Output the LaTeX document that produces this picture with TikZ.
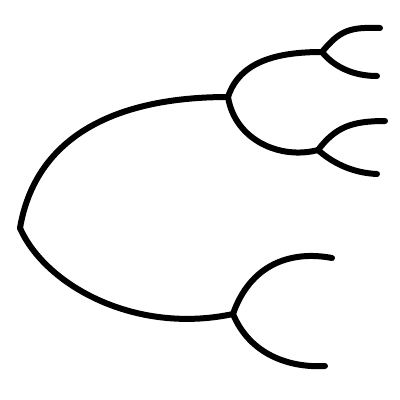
\documentclass[tikz,border=0pt]{standalone}
\begin{document}
\begin{tikzpicture}[x=1pt,y=-1pt,branch/.style={line width=6pt,line cap=round,line join=round,black}]
\useasboundingbox (0,0) rectangle (400,400);
\coordinate (r) at (20,228);
\coordinate (a) at (228,97);
\coordinate (b) at (233,314);
\coordinate (c) at (322,52);
\coordinate (d) at (318,150);
\coordinate (c1) at (380,28);
\coordinate (c2) at (377,76);
\coordinate (d1) at (385,121);
\coordinate (d2) at (377,174);
\coordinate (b1) at (332,258);
\coordinate (b2) at (325,366);
\draw[branch] (r) .. controls (35,140) and (110,97) .. (a);
\draw[branch] (r) .. controls (45,285) and (135,335) .. (b);
\draw[branch] (a) .. controls (240,60) and (280,52) .. (c);
\draw[branch] (a) .. controls (235,140) and (280,160) .. (d);
\draw[branch] (c) .. controls (340,30) and (350,27) .. (c1);
\draw[branch] (c) .. controls (335,68) and (355,76) .. (c2);
\draw[branch] (d) .. controls (335,128) and (350,121) .. (d1);
\draw[branch] (d) .. controls (335,165) and (355,173) .. (d2);
\draw[branch] (b) .. controls (250,265) and (290,250) .. (b1);
\draw[branch] (b) .. controls (250,355) and (290,368) .. (b2);
\end{tikzpicture}
\end{document}
